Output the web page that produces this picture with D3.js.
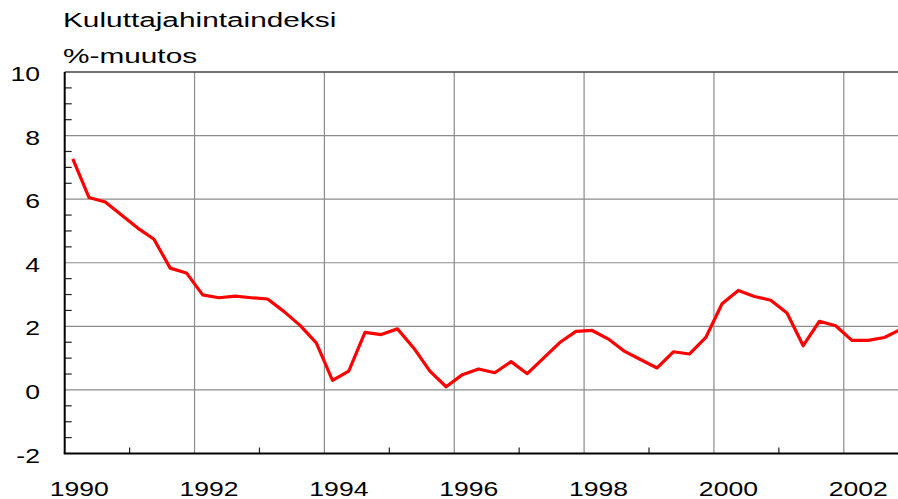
<!DOCTYPE html>
<html>
<head>
    <meta charset="UTF-8">
    <title>Kuluttajahintaindeksi</title>
    <script src="https://cdn.jsdelivr.net/npm/d3@7"></script>
    <style>
        body { margin: 0; background: #fff; }
        text { font-family: "Liberation Sans", Arial, sans-serif; fill: #000; }
    </style>
</head>
<body>
<script>

    // vuosineljännekset 1990 Q1 - 2002 Q4, %-muutos
    var years = d3.range(1990, 2003);
    var inflation = [
        7.27, 6.05, 5.91, 5.50,
        5.09, 4.74, 3.83, 3.68,
        2.99, 2.90, 2.95, 2.90,
        2.86, 2.47, 2.03, 1.48,
        0.30, 0.59, 1.81, 1.74,
        1.92, 1.32, 0.59, 0.10,
        0.48, 0.66, 0.54, 0.89,
        0.51, 1.00, 1.49, 1.84,
        1.87, 1.60, 1.21, 0.95,
        0.69, 1.20, 1.13, 1.65,
        2.71, 3.13, 2.94, 2.82,
        2.42, 1.39, 2.16, 2.02,
        1.56, 1.56, 1.65, 1.90
    ];
    var yTicks = [-2, 0, 2, 4, 6, 8, 10];
    var xTicks = [1990, 1992, 1994, 1996, 1998, 2000, 2002];
    var title = "Kuluttajahintaindeksi";
    var unit = "%-muutos";

    var width = 898,
        height = 499,
        stretch = 1.33; // teksti on venytetty vaakasuunnassa

    var data = inflation.map(function(v, i) {
        return { t: 1990 + Math.floor(i / 4) + ((i % 4) + 0.5) / 4, v: v };
    });

    var x = d3.scaleLinear().domain([1990, 2003]).range([64.7, 908.7]);
    var y = d3.scaleLinear().domain([-2, 10]).range([453.5, 72]);

    var svg = d3.select("body").append("svg")
        .attr("width", width)
        .attr("height", height);

    // ruudukko
    svg.append("g").selectAll("line").data(xTicks.slice(1))
        .enter().append("line")
        .attr("x1", function(d) { return x(d); })
        .attr("x2", function(d) { return x(d); })
        .attr("y1", y(10))
        .attr("y2", y(-2))
        .attr("stroke", "#8c8c8c")
        .attr("stroke-width", 1.2);

    svg.append("g").selectAll("line").data(yTicks.slice(1, -1))
        .enter().append("line")
        .attr("x1", x(1990))
        .attr("x2", width)
        .attr("y1", function(d) { return y(d); })
        .attr("y2", function(d) { return y(d); })
        .attr("stroke", "#8c8c8c")
        .attr("stroke-width", 1.2);

    // yläreuna
    svg.append("line")
        .attr("x1", x(1990)).attr("x2", width)
        .attr("y1", y(10)).attr("y2", y(10))
        .attr("stroke", "#444")
        .attr("stroke-width", 1.6);

    // pikkutikit
    var yMinor = d3.range(-1.5, 10, 0.5).filter(function(d) { return d % 2 !== 0; });
    svg.append("g").selectAll("line").data(yMinor)
        .enter().append("line")
        .attr("x1", x(1990))
        .attr("x2", x(1990) + 7)
        .attr("y1", function(d) { return y(d); })
        .attr("y2", function(d) { return y(d); })
        .attr("stroke", "#222")
        .attr("stroke-width", 1.2);

    var xMinor = d3.range(1991, 2003, 2);
    svg.append("g").selectAll("line").data(xMinor)
        .enter().append("line")
        .attr("x1", function(d) { return x(d); })
        .attr("x2", function(d) { return x(d); })
        .attr("y1", y(-2))
        .attr("y2", y(-2) - 6)
        .attr("stroke", "#222")
        .attr("stroke-width", 1.2);

    // akselit
    svg.append("line")
        .attr("x1", x(1990)).attr("x2", x(1990))
        .attr("y1", y(10)).attr("y2", y(-2))
        .attr("stroke", "#000")
        .attr("stroke-width", 2);
    svg.append("line")
        .attr("x1", x(1990) - 1).attr("x2", width)
        .attr("y1", y(-2)).attr("y2", y(-2))
        .attr("stroke", "#000")
        .attr("stroke-width", 2);

    // viiva
    var line = d3.line()
        .x(function(d) { return x(d.t); })
        .y(function(d) { return y(d.v); });

    svg.append("path")
        .datum(data)
        .attr("d", line)
        .attr("fill", "none")
        .attr("stroke", "#ff0000")
        .attr("stroke-width", 3.2)
        .attr("stroke-linejoin", "round");

    // tikkien tekstit
    svg.append("g").selectAll("text").data(yTicks)
        .enter().append("text")
        .attr("transform", function(d) { return "translate(40," + (y(d) + 9) + ") scale(" + stretch + ",1)"; })
        .attr("text-anchor", "end")
        .style("font-size", "20px")
        .text(function(d) { return d; });

    svg.append("g").selectAll("text").data(xTicks)
        .enter().append("text")
        .attr("transform", function(d) { return "translate(" + (x(d) + 14.5) + ",496) scale(" + stretch + ",1)"; })
        .attr("text-anchor", "middle")
        .style("font-size", "20px")
        .text(function(d) { return d; });

    // otsikot
    svg.append("text")
        .attr("transform", "translate(63,27) scale(1.42,1)")
        .style("font-size", "21px")
        .text(title);

    svg.append("text")
        .attr("transform", "translate(63,63) scale(1.42,1)")
        .style("font-size", "21px")
        .text(unit);

</script>
</body>
</html>
